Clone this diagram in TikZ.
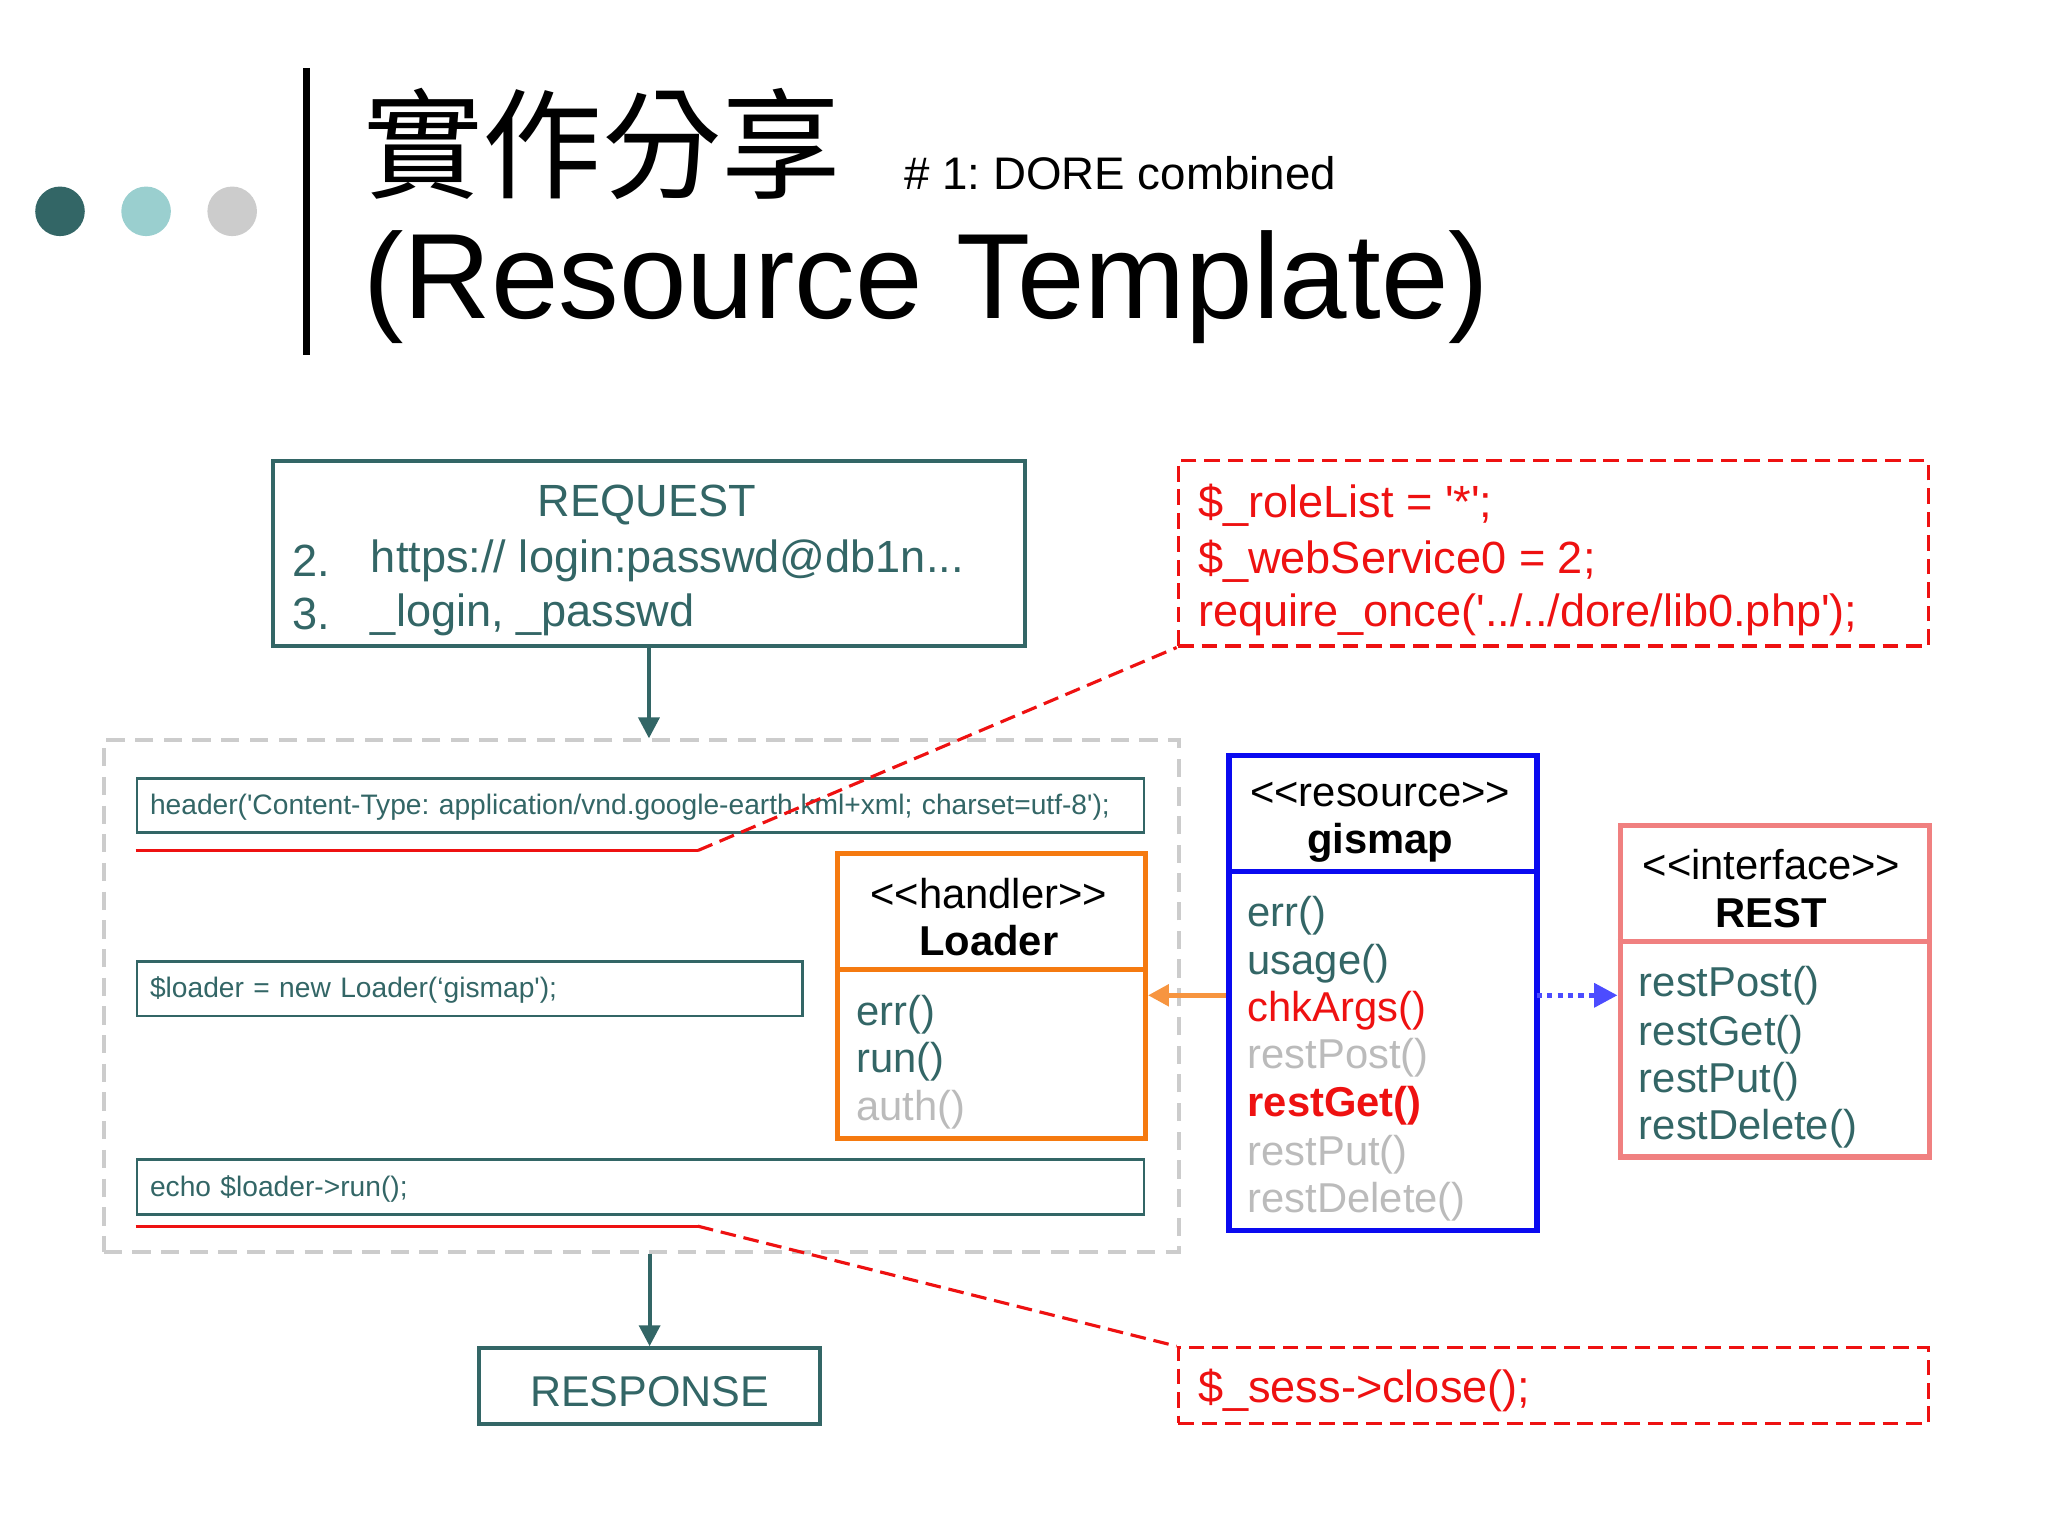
\documentclass[tikz,border=0pt]{standalone}
\usepackage{fontspec}
\setmainfont{Liberation Sans}[Ligatures=TeXOff]
\newfontfamily\cjk{Noto Sans CJK TC}
\usetikzlibrary{arrows.meta}
\definecolor{teal}{HTML}{336666}
\definecolor{lteal}{HTML}{9ACFCF}
\definecolor{lgray}{HTML}{CCCCCC}
\definecolor{orng}{HTML}{F57A10}
\definecolor{salmon}{HTML}{F08080}
\definecolor{blu}{HTML}{0A0AF0}
\definecolor{dred}{HTML}{EE1111}
\definecolor{ghost}{HTML}{BBBBBB}
\frenchspacing
\tikzset{
  box/.style={draw, line width=1.5pt, inner sep=0pt, anchor=north west},
  code/.style={box, teal, line width=1pt, text=teal, font=\fontsize{10.8}{12}\selectfont, align=left, text depth=1pt},
  txt/.style={anchor=west, inner sep=0pt, yshift=-2pt, font=\fontsize{16}{18}\selectfont},
  big/.style={txt, font=\fontsize{17.3}{19}\selectfont},
  ctxt/.style={inner sep=0pt, yshift=-2pt, font=\fontsize{16}{18}\selectfont},
  note/.style={box, dred, line width=1.2pt, dash pattern=on 6pt off 3pt},
  flow/.style={teal, line width=1.5pt, -{Triangle[length=8pt,width=8pt]}},
}
\begin{document}
\begin{tikzpicture}[x=0.5pt,y=-0.5pt]
\useasboundingbox (0,0) rectangle (1570,1177.5);
% header
\fill[teal] (46,162) circle (19);
\fill[lteal] (112,162) circle (19);
\fill[lgray] (178,162) circle (19);
\draw[line width=3pt] (235,52) -- (235,272);
\node[anchor=west, inner sep=0pt, font=\cjk\fontsize{45.8}{50}\selectfont] (t1) at (278,110) {實作分享};
\node[anchor=west, inner sep=0pt, font=\fontsize{17.5}{20}\selectfont] (t2) at (693,133) {\# 1: DORE combined};
\node[anchor=west, inner sep=0pt, font=\fontsize{46.5}{52}\selectfont] (t3) at (278,220) {(Resource Template)};

% request
\node[box, teal, minimum width=288pt, minimum height=71pt] (req) at (208,352) {};
\node[ctxt, text=teal, font=\fontsize{17.3}{19}\selectfont] (reqt) at (496,383) {REQUEST};
\node[big, text=teal] (r2) at (224,426) {2.};
\node[big, text=teal] (r2t) at (284,426) {https:// login:passwd@db1n...};
\node[big, text=teal] (r3) at (224,467) {3.};
\node[big, text=teal] (r3t) at (284,467) {\_login, \_passwd};

% container
\node[box, lgray, dash pattern=on 7pt off 4pt, minimum width=412pt, minimum height=196pt] (cont) at (78,566) {};
\draw[flow] (req.south) -- (req.south |- cont.north);

\node[code, minimum width=386pt, minimum height=20.5pt, text width=376pt] (hdr) at (104,596) {header('Content-Type: application/vnd.google-earth.kml+xml; charset=utf-8');};
\node[code, minimum width=255pt, minimum height=21pt, text width=245pt] (ldr) at (104,736) {\$loader = new Loader(‘gismap');};
\node[code, minimum width=386pt, minimum height=21pt, text width=376pt] (echo) at (104,888) {echo \$loader->run();};

% notes
\node[note, minimum width=287.5pt, minimum height=71pt] (n1) at (902,352) {};
\node[big, text=dred] (n1a) at (918,383) {\$\_roleList = '*';};
\node[big, text=dred] (n1b) at (918,426) {\$\_webService0 = 2;};
\node[big, text=dred] (n1c) at (918,467) {require\_once('../../dore/lib0.php');};
\node[note, minimum width=287.5pt, minimum height=29pt] (n2) at (902,1032) {};
\node[big, text=dred] (n2a) at (918,1062) {\$\_sess->close();};

\coordinate (u1) at (104,652);
\coordinate (u2) at (535,652);
\draw[dred, line width=1.2pt] (u1) -- (u2);
\draw[dred, line width=1.2pt, dash pattern=on 6pt off 3pt] (u2) -- (n1.south west);
\coordinate (v1) at (104,940);
\coordinate (v2) at (535,940);
\draw[dred, line width=1.2pt] (v1) -- (v2);
\draw[dred, line width=1.2pt, dash pattern=on 6pt off 3pt] (v2) -- (n2.north west);

% response
\node[box, teal, minimum width=130.5pt, minimum height=29pt] (resp) at (366,1032) {};
\node[ctxt, text=teal, font=\fontsize{16.5}{18}\selectfont] (respt) at (resp.center) {RESPONSE};
\draw[flow] (resp.north |- cont.south) -- (resp.north);

% loader
\node[box, orng, line width=2pt, minimum width=118pt, minimum height=109.5pt] (lo) at (640,652) {};
\draw[orng, line width=2pt] (640,743) -- (876,743);
\node[ctxt] (lo1) at (758,681) {<<handler>>};
\node[ctxt, font=\bfseries\fontsize{16}{18}\selectfont] (lo2) at (758,717) {Loader};
\node[txt, text=teal] (lo3) at (656,774) {err()};
\node[txt, text=teal] (lo4) at (656,810) {run()};
\node[txt, text=ghost] (lo5) at (656,847) {auth()};

% gismap
\node[box, blu, line width=2.2pt, minimum width=118pt, minimum height=182pt] (gm) at (940,577) {};
\draw[blu, line width=2.2pt] (940,668) -- (1176,668);
\node[ctxt] (g1) at (1058,605) {<<resource>>};
\node[ctxt, font=\bfseries\fontsize{16}{18}\selectfont] (g2) at (1058,642) {gismap};
\node[txt, text=teal] (g3) at (956,698) {err()};
\node[txt, text=teal] (g4) at (956,735) {usage()};
\node[txt, text=dred] (g5) at (956,771) {chkArgs()};
\node[txt, text=ghost] (g6) at (956,807) {restPost()};
\node[txt, text=dred, font=\bfseries\fontsize{16}{18}\selectfont] (g7) at (956,844) {restGet()};
\node[txt, text=ghost] (g8) at (956,881) {restPut()};
\node[txt, text=ghost] (g9) at (956,917) {restDelete()};

% REST
\node[box, salmon, line width=2pt, minimum width=118.5pt, minimum height=127pt] (rs) at (1240,631) {};
\draw[salmon, line width=2pt] (1240,722) -- (1477,722);
\node[ctxt] (rs1) at (1358,659) {<<interface>>};
\node[ctxt, font=\bfseries\fontsize{16}{18}\selectfont] (rs2) at (1358,696) {REST};
\node[txt, text=teal] (rs3) at (1256,752) {restPost()};
\node[txt, text=teal] (rs4) at (1256,789) {restGet()};
\node[txt, text=teal] (rs5) at (1256,825) {restPut()};
\node[txt, text=teal] (rs6) at (1256,861) {restDelete()};

% connectors
\coordinate (a1) at (940,763);
\draw[orng!80, line width=2pt, -{Triangle[length=8pt,width=8pt]}] (a1) -- (a1 -| lo.east);
\coordinate (b1) at (1178,763);
\draw[blue!70, line width=2pt, dotted, -{Triangle[length=9pt,width=9pt,fill=blue!70]}] (b1) -- (b1 -| rs.west);
\end{tikzpicture}
\end{document}
